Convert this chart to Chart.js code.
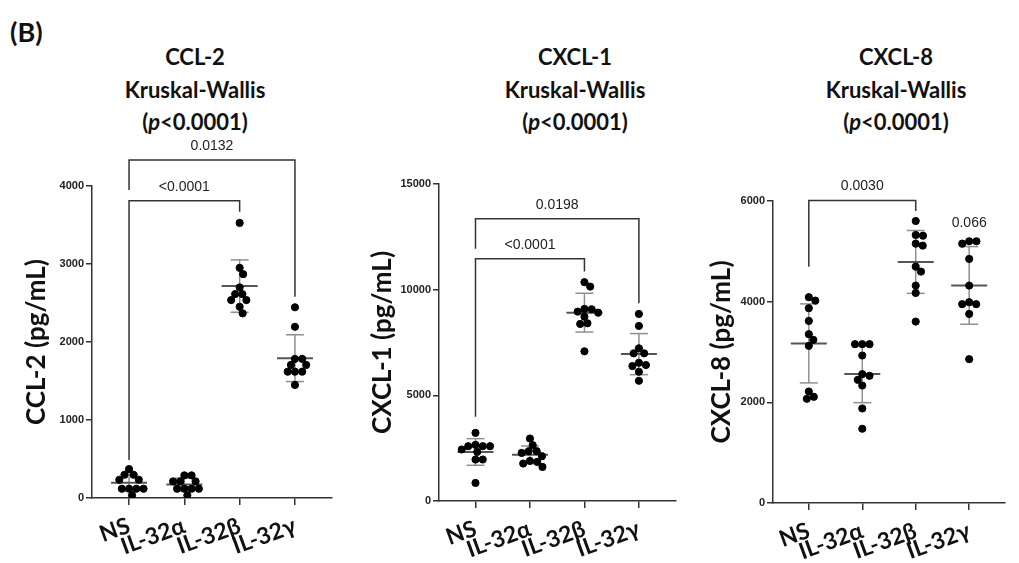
<!DOCTYPE html>
<html>
<head>
<meta charset="utf-8">
<script src="https://cdn.jsdelivr.net/npm/chart.js@4.4.0/dist/chart.umd.min.js"></script>
<style>
    body { margin: 0; background: #fff; width: 1019px; height: 563px; position: relative; overflow: hidden; }
    .painel { position: absolute; top: 130px; height: 433px; }
    .titulo { position: absolute; top: 41px; width: 240px; text-align: center; color: #111;
              font: bold 22px Lato, 'Open Sans', sans-serif; line-height: 32.5px; }
    #letra { position: absolute; left: 10px; top: 15px; color: #111;
             font: bold 27px Lato, 'Open Sans', sans-serif; }
</style>
</head>
<body>
<div id="letra">(B)</div>
<div class="titulo" style="left:75px">CCL-2<br>Kruskal-Wallis<br>(<i>p</i>&lt;0.0001)</div>
<div class="titulo" style="left:455px">CXCL-1<br>Kruskal-Wallis<br>(<i>p</i>&lt;0.0001)</div>
<div class="titulo" style="left:776px">CXCL-8<br>Kruskal-Wallis<br>(<i>p</i>&lt;0.0001)</div>

<div class="painel" style="left:0px;width:340px"><canvas id="graficoCCL2"></canvas></div>
<div class="painel" style="left:340px;width:340px"><canvas id="graficoCXCL1"></canvas></div>
<div class="painel" style="left:680px;width:339px"><canvas id="graficoCXCL8"></canvas></div>

<script>
const grupos = ['NS', 'IL-32α', 'IL-32β', 'IL-32γ'];

// valores (pg/mL)
const ccl2NS   = [371, 298, 298, 234, 234, 119, 119, 119, 119, 34];
const ccl2Alfa = [290, 290, 213, 213, 213, 119, 119, 119, 119, 34];
const ccl2Beta = [3527, 2951, 2870, 2700, 2614, 2614, 2537, 2537, 2452, 2367];
const ccl2Gama = [2445, 2195, 1783, 1783, 1706, 1706, 1620, 1620, 1620, 1450];

const cxcl1NS   = [3224, 2655, 2593, 2593, 2593, 2437, 2323, 1963, 1963, 853];
const cxcl1Alfa = [2957, 2641, 2356, 2356, 2276, 2119, 1896, 1849, 1773, 1612];
const cxcl1Beta = [10354, 10146, 9088, 9074, 8960, 8913, 8723, 8410, 8377, 7083];
const cxcl1Gama = [8851, 8282, 7225, 6988, 6988, 6542, 6434, 6386, 6116, 5689];

const cxcl8NS   = [4089, 4021, 3870, 3618, 3354, 3241, 3122, 2215, 2110, 2070];
const cxcl8Alfa = [3156, 3156, 3156, 2930, 2560, 2527, 2447, 2334, 1878, 1475];
const cxcl8Beta = [5603, 5325, 5311, 5153, 5113, 4696, 4597, 4319, 4174, 3604];
const cxcl8Gama = [5200, 5200, 5153, 4849, 4319, 3989, 3950, 3950, 3757, 2858];

// ticks do eixo y
const ticksCCL2  = [0, 1000, 2000, 3000, 4000];
const ticksCXCL1 = [0, 5000, 10000, 15000];
const ticksCXCL8 = [0, 2000, 4000, 6000];

// comparações (de, para, altura, perna esquerda, perna direita, p)
const colchetesCCL2 = [
    { de: 0, para: 2, y: 3812, ya: 487, yb: 3670, p: '<0.0001' },
    { de: 0, para: 3, y: 4333, ya: 3949, yb: 2581, p: '0.0132' }
];
const colchetesCXCL1 = [
    { de: 0, para: 2, y: 11459, ya: 3982, yb: 10857, p: '<0.0001' },
    { de: 0, para: 3, y: 13355, ya: 11933, yb: 9358, p: '0.0198' }
];
const colchetesCXCL8 = [
    { de: 0, para: 2, y: 6010, ya: 4696, yb: 5802, p: '0.0030' },
    { de: 3, y: 5563, p: '0.066' } // só o texto
];

const FONTE_TITULO = "Lato, 'Open Sans', sans-serif";

function media(v) { return v.reduce((a, b) => a + b, 0) / v.length; }
function desvio(v) {
    const m = media(v);
    return Math.sqrt(v.reduce((a, x) => a + (x - m) ** 2, 0) / (v.length - 1));
}

function linha(ctx, x1, y1, x2, y2) {
    ctx.beginPath();
    ctx.moveTo(x1, y1);
    ctx.lineTo(x2, y2);
    ctx.stroke();
}

function pluginMarcas(valores, colchetes) {
    return {
        id: 'marcas',
        beforeDatasetsDraw(chart) {
            const ctx = chart.ctx, sx = chart.scales.x, sy = chart.scales.y;
            ctx.save();
            valores.forEach((v, i) => {
                const m = media(v), dp = desvio(v);
                const cx = sx.getPixelForValue(i);
                const yTopo = sy.getPixelForValue(m + dp), yBase = sy.getPixelForValue(m - dp);
                ctx.strokeStyle = '#8f8f8f';
                ctx.lineWidth = 1.5;
                linha(ctx, cx, yTopo, cx, yBase);
                linha(ctx, cx - 9, yTopo, cx + 9, yTopo);
                linha(ctx, cx - 9, yBase, cx + 9, yBase);
                ctx.strokeStyle = '#555';
                ctx.lineWidth = 2;
                const ym = sy.getPixelForValue(m);
                linha(ctx, cx - 18, ym, cx + 18, ym);
            });
            ctx.restore();
        },
        afterDatasetsDraw(chart) {
            const ctx = chart.ctx, sx = chart.scales.x, sy = chart.scales.y;
            ctx.save();
            ctx.strokeStyle = '#333';
            ctx.lineWidth = 1.5;
            ctx.fillStyle = '#222';
            ctx.font = '14px "Liberation Sans", Arial, sans-serif';
            ctx.textAlign = 'center';
            ctx.textBaseline = 'bottom';
            colchetes.forEach(c => {
                const y = sy.getPixelForValue(c.y);
                if (c.para === undefined) {
                    ctx.textBaseline = 'middle';
                    ctx.fillText(c.p, sx.getPixelForValue(c.de), y);
                    ctx.textBaseline = 'bottom';
                    return;
                }
                const xa = sx.getPixelForValue(c.de), xb = sx.getPixelForValue(c.para);
                ctx.beginPath();
                ctx.moveTo(xa, sy.getPixelForValue(c.ya));
                ctx.lineTo(xa, y);
                ctx.lineTo(xb, y);
                ctx.lineTo(xb, sy.getPixelForValue(c.yb));
                ctx.stroke();
                ctx.fillText(c.p, (xa + xb) / 2, y - 7);
            });
            ctx.restore();
        }
    };
}

// espalha os pontos de cada grupo para não se sobreporem
function espalhaPontos(chart) {
    const sx = chart.scales.x, sy = chart.scales.y;
    const pxUnidade = sx.getPixelForValue(1) - sx.getPixelForValue(0);
    const D = 7.2;
    chart.data.datasets.forEach((ds, i) => {
        const colocados = [];
        ds.data.forEach(p => {
            const py = sy.getPixelForValue(p.y);
            let dx = 0;
            for (let k = 0; k < 400; k++) {
                const cand = (k % 2 ? 1 : -1) * Math.ceil(k / 2) * 0.25;
                if (colocados.every(q => Math.hypot(q.dx - cand, q.py - py) >= D)) { dx = cand; break; }
            }
            colocados.push({ dx, py });
            p.x = i + dx / pxUnidade;
        });
    });
    chart.update('none');
}

function criaGrafico(id, valores, ticksY, tituloY, colchetes, layout) {
    const ctx = document.getElementById(id).getContext('2d');
    const datasets = valores.map((v, i) => ({
        label: grupos[i],
        data: v.map(y => ({ x: i, y })),
        backgroundColor: '#000',
        borderColor: '#000',
        pointRadius: 3.6,
        pointHoverRadius: 3.6
    }));

    const grafico = new Chart(ctx, {
        type: 'scatter',
        data: { datasets },
        options: {
            responsive: true,
            maintainAspectRatio: false,
            animation: false,
            events: [],
            layout: { padding: { top: layout.topo, right: layout.direita, left: 0, bottom: 0 } },
            plugins: { legend: { display: false }, tooltip: { enabled: false } },
            scales: {
                x: {
                    type: 'linear',
                    min: -0.67,
                    max: 3.67,
                    afterBuildTicks: s => { s.ticks = grupos.map((_, i) => ({ value: i })); },
                    afterFit: s => { s.height = layout.alturaX; },
                    grid: { drawOnChartArea: false, drawTicks: true, tickLength: 7, color: '#333', lineWidth: 1.5 },
                    border: { color: '#333', width: 1.5 },
                    ticks: {
                        autoSkip: false,
                        maxRotation: 20,
                        minRotation: 20,
                        padding: 7,
                        color: '#111',
                        font: { family: FONTE_TITULO, size: 23, weight: 'bold' },
                        callback: v => grupos[v]
                    }
                },
                y: {
                    min: 0,
                    max: ticksY[ticksY.length - 1],
                    afterBuildTicks: s => { s.ticks = ticksY.map(v => ({ value: v })); },
                    afterFit: s => { s.width = layout.larguraY; },
                    grid: { drawOnChartArea: false, drawTicks: true, tickLength: 6, color: '#333', lineWidth: 1.5 },
                    border: { color: '#333', width: 1.5 },
                    ticks: {
                        padding: 2,
                        color: '#222',
                        font: { family: "'Liberation Sans', Arial, sans-serif", size: 11, weight: 'bold' },
                        callback: v => String(v)
                    },
                    title: {
                        display: true,
                        text: tituloY,
                        color: '#111',
                        padding: { top: layout.padTitulo, bottom: 0 },
                        font: { family: FONTE_TITULO, size: 26, weight: 'bold' }
                    }
                }
            }
        },
        plugins: [pluginMarcas(valores, colchetes)]
    });
    espalhaPontos(grafico);
    return grafico;
}

criaGrafico('graficoCCL2', [ccl2NS, ccl2Alfa, ccl2Beta, ccl2Gama], ticksCCL2, 'CCL-2 (pg/mL)', colchetesCCL2,
    { topo: 56, direita: 8, larguraY: 92, alturaX: 65, padTitulo: 21 });
criaGrafico('graficoCXCL1', [cxcl1NS, cxcl1Alfa, cxcl1Beta, cxcl1Gama], ticksCXCL1, 'CXCL-1 (pg/mL)', colchetesCXCL1,
    { topo: 54, direita: 1, larguraY: 99, alturaX: 62, padTitulo: 27 });
criaGrafico('graficoCXCL8', [cxcl8NS, cxcl8Alfa, cxcl8Beta, cxcl8Gama], ticksCXCL8, 'CXCL-8 (pg/mL)', colchetesCXCL8,
    { topo: 71, direita: 14, larguraY: 93, alturaX: 60, padTitulo: 26 });
</script>
</body>
</html>
